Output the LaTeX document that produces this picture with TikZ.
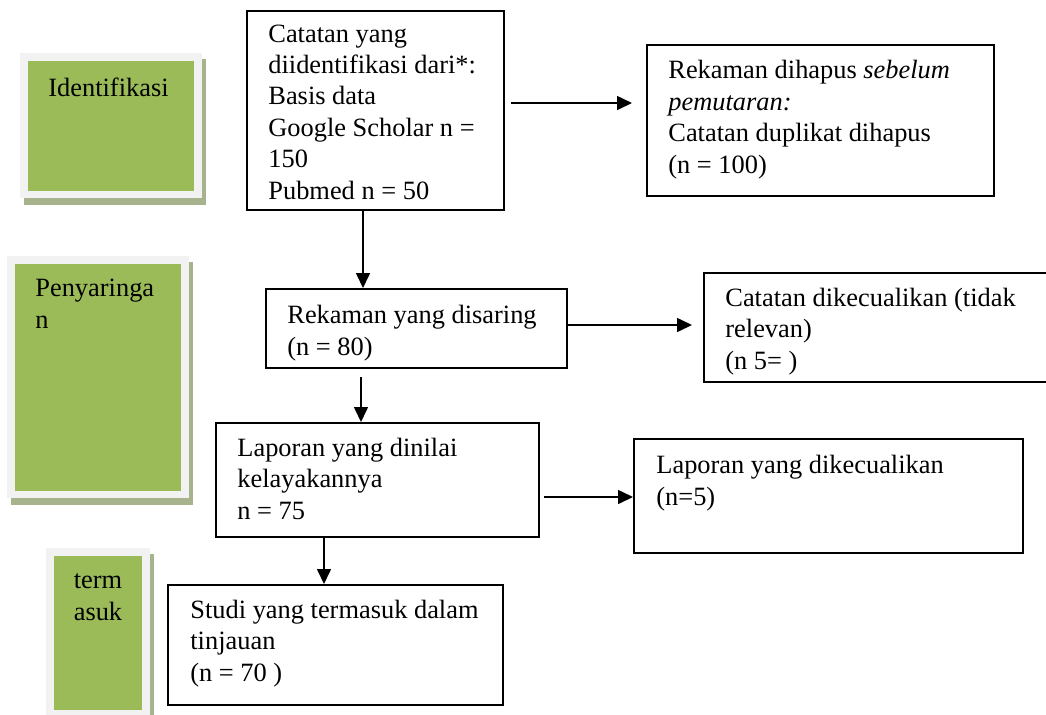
\documentclass[tikz,border=0pt]{standalone}
\usepackage{fontspec}
\setmainfont{Liberation Serif}
\usetikzlibrary{arrows.meta,calc,fit}
\definecolor{lblgreen}{HTML}{9BBB59}
\definecolor{lblframe}{HTML}{F2F2F2}
\definecolor{lblshadow}{HTML}{A6B38C}
\tikzset{
  box/.style={draw=black, line width=1pt, inner sep=0pt},
  txt/.style={anchor=base west, inner sep=0pt, align=left},
  gtxt/.style={inner sep=0pt},
  arr/.style={line width=0.8pt, -{Triangle[length=7.5pt,width=7pt]}}
}
\begin{document}
\begin{tikzpicture}[x=0.5pt,y=-0.5pt, font=\fontsize{13.2pt}{15.7pt}\selectfont]
\clip (0,0) rectangle (1046,714);
\fill[white] (0,0) rectangle (1046,714);

% phase panels
\fill[lblshadow] (24,59) rectangle (206,205);
\fill[lblframe] (20,53) rectangle (202,198);
\fill[lblgreen] (28,61) rectangle (194,191);

\fill[lblshadow] (11,262) rectangle (193,505);
\fill[lblframe] (7,256) rectangle (189,498);
\fill[lblgreen] (15,264) rectangle (181,491);

\fill[lblshadow] (50,554) rectangle (154,724);
\fill[lblframe] (46,548) rectangle (150,718);
\fill[lblgreen] (54,556) rectangle (142,710);

\node[gtxt, anchor=base west] (l1) at (48,96) {Identifikasi};
\node[gtxt, anchor=base west, align=left] (l2) at (35,328) {Penyaringa\\n};
\node[gtxt, anchor=base, align=center] (l3) at (98,620) {term\\asuk};

% boxes
\node[box, fit={(247,11) (504,210)}] (A) {};
\node[box, fit={(647,45) (994,196)}] (B) {};
\node[box, fit={(266,289) (567,368)}] (C) {};
\node[box, fit={(704,273) (1060,382)}] (D) {};
\node[box, fit={(216,423) (539,537)}] (E) {};
\node[box, fit={(634,439) (1023,553)}] (F) {};
\node[box, fit={(168,585) (503,705)}] (G) {};

% texts (anchored at the baseline of the last line)
\node[txt] (tA) at (268,199) {Catatan yang\\diidentifikasi dari*:\\Basis data\\Google Scholar n =\\150\\Pubmed n = 50};
\node[txt] (tB) at (668,173) {Rekaman dihapus \textit{sebelum}\\\textit{pemutaran:}\\Catatan duplikat dihapus\\(n = 100)};
\node[txt] (tC) at (287,355) {Rekaman yang disaring\\(n = 80)};
\node[txt] (tD) at (725,369) {Catatan dikecualikan (tidak\\relevan)\\(n 5= )};
\node[txt] (tE) at (237,519) {Laporan yang dinilai\\kelayakannya\\n = 75};
\node[txt] (tF) at (656,505) {Laporan yang dikecualikan\\(n=5)};
\node[txt] (tG) at (190,681) {Studi yang termasuk dalam\\tinjauan\\(n = 70 )};

% connectors
\coordinate (a1) at ($(A.east)+(6,-7.5)$);
\draw[arr] (a1) -- ([xshift=-7pt]B.west |- a1);

\coordinate (a2) at ($(A.south)+(-12.5,0)$);
\draw[arr] (a2) -- (a2 |- C.north);

\coordinate (a3) at ($(C.east)+(0,-3.5)$);
\draw[arr] (a3) -- ([xshift=-5.5pt]D.west |- a3);

\coordinate (a4) at ($(C.south)+(-55.5,8)$);
\draw[arr] (a4) -- (a4 |- E.north);

\coordinate (a5) at ($(E.east)+(4,17)$);
\draw[arr] (a5) -- (F.west |- a5);

\coordinate (a6) at ($(E.south)+(-53.5,0)$);
\draw[arr] (a6) -- (a6 |- G.north);
\end{tikzpicture}
\end{document}
